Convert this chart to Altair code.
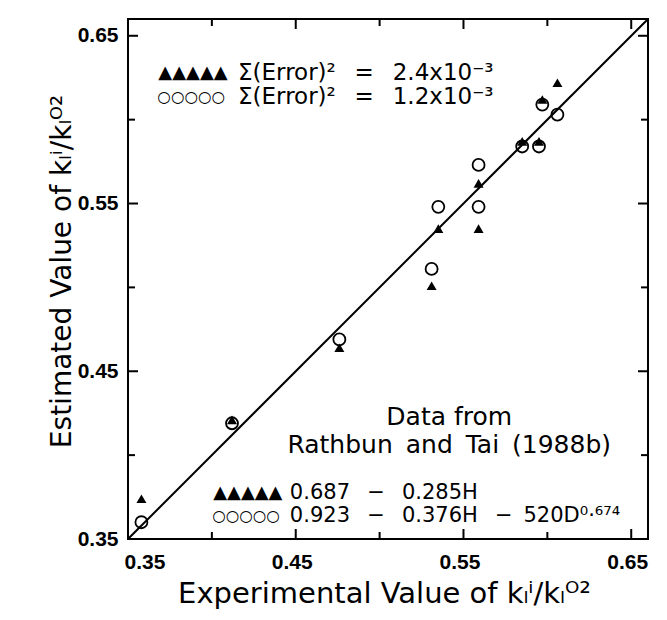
import altair as alt
import pandas as pd

# ---- values ----
exp_values = [0.358, 0.412, 0.476, 0.531, 0.535, 0.559, 0.559, 0.585, 0.595, 0.597, 0.606]
est_triangle = [0.374, 0.421, 0.464, 0.501, 0.535, 0.562, 0.535, 0.587, 0.587, 0.612, 0.622]
est_circle = [0.360, 0.419, 0.469, 0.511, 0.548, 0.573, 0.548, 0.584, 0.584, 0.609, 0.603]

axis_domain = [0.35, 0.66]
label_ticks = [0.35, 0.45, 0.55, 0.65]
major_ticks = [0.45, 0.55, 0.65]
minor_ticks = [0.40, 0.50, 0.60]
parity_line = [0.35, 0.66]

x_title = "Experimental Value of kₗⁱ/kₗᴼ²"
y_title = "Estimated Value of kₗⁱ/kₗᴼ²"

legend_glyphs_tri = "▲▲▲▲▲"
legend_glyphs_circ = "○○○○○"
legend_texts = ["Σ(Error)² \u2002= \u20022.4x10⁻³", "Σ(Error)² \u2002= \u20021.2x10⁻³"]
source_texts = ["Data from", "Rathbun \u2009and \u2009Tai \u2009(1988b)"]
equation_texts = ["0.687 \u2002− \u20020.285H", "0.923 \u2002− \u20020.376H \u2002− \u2009520D⁰·⁶⁷⁴"]

W, H = 520, 520
FONT = "DejaVu Sans"
MAJOR_LEN, MINOR_LEN = 10, 7

xs = alt.Scale(domain=axis_domain, nice=False, zero=False)
ys = alt.Scale(domain=axis_domain, nice=False, zero=False)

tri_df = pd.DataFrame({"exp": exp_values, "est": est_triangle})
circ_df = pd.DataFrame({"exp": exp_values, "est": est_circle})
line_df = pd.DataFrame({"exp": parity_line, "est": parity_line})

# main layer: parity line + tick labels + titles
main = alt.Chart(line_df).mark_line(color="black", strokeWidth=2, clip=True).encode(
    x=alt.X("exp:Q", scale=xs, axis=alt.Axis(
        orient="bottom", values=label_ticks, format=".2f", ticks=False, domain=False, grid=False,
        labelFont="Liberation Sans", labelFontWeight="bold", labelFontSize=21, labelColor="black",
        labelPadding=12, labelOffset=-4,
        title=x_title, titleFont=FONT, titleFontSize=29, titleFontWeight="normal", titleColor="black",
        titleX=W / 2 - 4, titleY=63, titleAlign="center", titleBaseline="alphabetic")),
    y=alt.Y("est:Q", scale=ys, axis=alt.Axis(
        orient="left", values=label_ticks, format=".2f", ticks=False, domain=False, grid=False,
        labelFont="Liberation Sans", labelFontWeight="bold", labelFontSize=21, labelColor="black",
        labelPadding=10,
        title=y_title, titleFont=FONT, titleFontSize=28, titleFontWeight="normal", titleColor="black",
        titleX=-58, titleY=H / 2 - 8, titleAlign="center", titleBaseline="alphabetic", titleAngle=270)),
)


def ticks_x(values, y0, y1):
    df = pd.DataFrame({"v": values})
    return alt.Chart(df).mark_rule(color="black", strokeWidth=2).encode(
        x=alt.X("v:Q", scale=xs, axis=None), y=alt.value(y0), y2=alt.value(y1))


def ticks_y(values, x0, x1):
    df = pd.DataFrame({"v": values})
    return alt.Chart(df).mark_rule(color="black", strokeWidth=2).encode(
        y=alt.Y("v:Q", scale=ys, axis=None), x=alt.value(x0), x2=alt.value(x1))


tick_layers = [
    ticks_x(major_ticks, H, H - MAJOR_LEN), ticks_x(minor_ticks, H, H - MINOR_LEN),
    ticks_x(major_ticks, 0, MAJOR_LEN), ticks_x(minor_ticks, 0, MINOR_LEN),
    ticks_y(major_ticks, 0, MAJOR_LEN), ticks_y(minor_ticks, 0, MINOR_LEN),
    ticks_y(major_ticks, W, W - MAJOR_LEN), ticks_y(minor_ticks, W, W - MINOR_LEN),
]

circles = alt.Chart(circ_df).mark_point(shape="circle", filled=False, color="black",
                                        strokeWidth=1.8, size=144, opacity=1).encode(
    x=alt.X("exp:Q", scale=xs, axis=None),
    y=alt.Y("est:Q", scale=ys, axis=None),
)
triangles = alt.Chart(tri_df).mark_point(shape="triangle-up", filled=True, color="black",
                                         size=100, opacity=1).encode(
    x=alt.X("exp:Q", scale=xs, axis=None),
    y=alt.Y("est:Q", scale=ys, axis=None),
)


def text_layer(xs_, ys_, texts, size, align="left"):
    df = pd.DataFrame({"exp": xs_, "est": ys_, "label": texts})
    return alt.Chart(df).mark_text(align=align, baseline="middle", font=FONT, fontSize=size,
                                   color="black").encode(
        x=alt.X("exp:Q", scale=xs, axis=None),
        y=alt.Y("est:Q", scale=ys, axis=None),
        text="label:N",
    )


top_tri = text_layer([0.3681], [0.6277], [legend_glyphs_tri], 18)
top_circ = text_layer([0.3675], [0.6137], [legend_glyphs_circ], 15.5)
top_text = text_layer([0.4156, 0.4156], [0.6277, 0.6137], legend_texts, 23)
source = text_layer([0.5415, 0.5415], [0.4225, 0.4062], source_texts, 25, align="center")
eq_tri = text_layer([0.4008], [0.3774], [legend_glyphs_tri], 18)
eq_circ = text_layer([0.4002], [0.3640], [legend_glyphs_circ], 15.5)
eq_text = text_layer([0.4465, 0.4465], [0.3774, 0.3640], equation_texts, 21)

chart = alt.layer(
    main, *tick_layers, circles, triangles,
    top_tri, top_circ, top_text, source, eq_tri, eq_circ, eq_text
).resolve_axis(x="independent", y="independent").properties(
    width=W, height=H,
    padding={"left": 128, "top": 19, "right": 19, "bottom": 81},
    autosize=alt.AutoSizeParams(type="none"),
    background="white",
).configure_view(stroke="black", strokeWidth=2)

chart.save("out.html", embed_options={"renderer": "svg", "actions": False})
